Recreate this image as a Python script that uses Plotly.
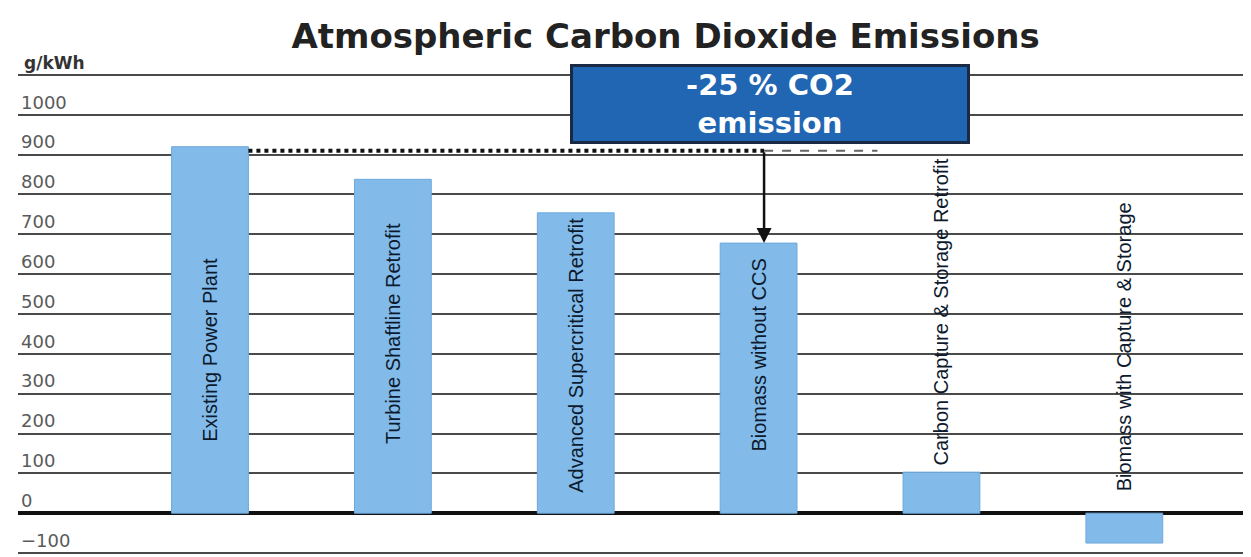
import plotly.graph_objects as go

# data (g/kWh)
categories = [
    "Existing Power Plant",
    "Turbine Shaftline Retrofit",
    "Advanced Supercritical Retrofit",
    "Biomass without CCS",
    "Carbon Capture & Storage Retrofit",
    "Biomass with Capture & Storage",
]
emissions = [920, 838, 754, 678, 103, -75]
tick_vals = [-100, 0, 100, 200, 300, 400, 500, 600, 700, 800, 900, 1000, 1100]
tick_text = ["\u2212100", "0", "100", "200", "300", "400", "500", "600",
             "700", "800", "900", "1000", ""]
unit_label = "g/kWh"
baseline_level = 910

x_idx = list(range(len(categories)))

fig = go.Figure()
fig.add_trace(go.Bar(
    x=x_idx,
    y=emissions,
    width=0.42,
    marker=dict(color="#82bbe9", line=dict(color="#6ea9dc", width=1)),
    hoverinfo="skip",
    showlegend=False,
))

# vertical category labels
label_y = [410, 452, 397, 397, 505, 417]
for i, name in enumerate(categories):
    fig.add_annotation(
        x=i, y=label_y[i], text=name, textangle=-90, showarrow=False,
        font=dict(family="Liberation Sans Narrow, Arial Narrow, Liberation Sans",
                  size=20, color="#0d1a2e"),
    )

# unit label on top gridline
fig.add_annotation(
    x=0.003, xref="paper", xanchor="left", y=1100, yanchor="bottom",
    text="<b>" + unit_label + "</b>", showarrow=False,
    font=dict(family="DejaVu Sans", size=17, color="#333"),
)

# reference line from existing plant + arrow down to biomass bar
fig.add_shape(type="line", x0=0.21, x1=3.03, y0=baseline_level, y1=baseline_level,
              line=dict(color="#111", width=4, dash="dot"))
fig.add_shape(type="line", x0=3.03, x1=3.65, y0=baseline_level, y1=baseline_level,
              line=dict(color="#666", width=2, dash="dash"))
fig.add_annotation(
    x=3.03, y=emissions[3], ax=3.03, ay=baseline_level,
    xref="x", yref="y", axref="x", ayref="y",
    text="", showarrow=True, arrowhead=2, arrowsize=1.2, arrowwidth=2.5,
    arrowcolor="#111",
)

# callout box
fig.add_annotation(
    x=3.06, y=1028, text="<b>-25 % CO2<br>emission</b>", showarrow=False,
    font=dict(family="DejaVu Sans", size=29, color="white"),
    bgcolor="#2166b3", bordercolor="#1a2a44", borderwidth=3,
    width=392, height=72, align="center",
)

fig.update_layout(
    width=1243, height=549,
    margin=dict(l=10, r=6, t=63, b=0),
    paper_bgcolor="white", plot_bgcolor="white",
    title=dict(text="<b>Atmospheric Carbon Dioxide Emissions</b>",
               x=0.529, xanchor="center", y=0.948, yanchor="middle",
               font=dict(family="DejaVu Sans", size=34, color="#222")),
    xaxis=dict(range=[-1.05, 5.66], showticklabels=False, showgrid=False,
               zeroline=False, fixedrange=True),
    yaxis=dict(range=[-110, 1110], tickvals=tick_vals, ticktext=tick_text,
               ticklabelposition="inside top", ticks="",
               tickfont=dict(family="DejaVu Sans", size=18, color="#5a5a5a"),
               showgrid=True, gridcolor="#4a4a4a", gridwidth=2,
               zeroline=True, zerolinecolor="#111", zerolinewidth=4,
               showline=False),
    bargap=0.58,
)

fig.write_html("out.html")
